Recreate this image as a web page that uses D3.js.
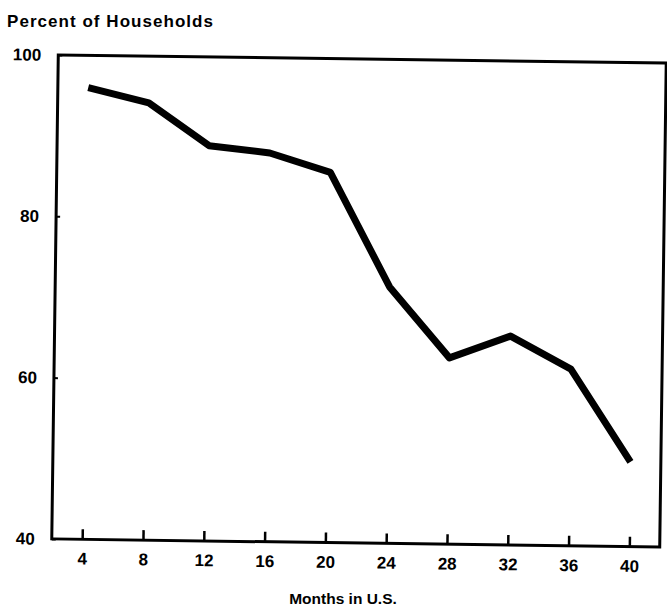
<!DOCTYPE html>
<html>
<head>
<meta charset="utf-8">
<script src="https://cdn.jsdelivr.net/npm/d3@7"></script>
<style>
  body { margin: 0; background: #fff; }
  text { font-family: "Liberation Sans", Arial, sans-serif; fill: #000; }
</style>
</head>
<body>
<div id="chart"></div>
<script>
// data
var months = [4, 8, 12, 16, 20, 24, 28, 32, 36, 40];
var percents = [96, 94.2, 89, 88.2, 85.9, 71.8, 63.1, 65.9, 61.9, 50.5];
var xTicks = [4, 8, 12, 16, 20, 24, 28, 32, 36, 40];
var yTicks = [40, 60, 80, 100];

function drawChart() {

    //set svg dimensions
    var svgWidth = 667;
    var svgHeight = 608;

    //plot box
    var margin = { top: 59, left: 55 };
    var width = 608;
    var height = 484;

    var svg = d3.select("#chart").append("svg")
        .attr("width", svgWidth)
        .attr("height", svgHeight);

    // the scan is slightly tilted, so tilt the plot the same way
    var cx = margin.left + width / 2;
    var cy = margin.top + height / 2;
    var chartGroup = svg.append("g")
        .attr("transform", `rotate(0.77, ${cx}, ${cy}) translate(${margin.left}, ${margin.top})`);

    // scales
    var xScale = d3.scaleLinear().domain([2, 42]).range([0, width]);
    var yScale = d3.scaleLinear().domain([40, 100]).range([height, 0]);

    // frame
    chartGroup.append("rect")
        .attr("x", 0)
        .attr("y", 0)
        .attr("width", width)
        .attr("height", height)
        .attr("fill", "none")
        .attr("stroke", "#000")
        .attr("stroke-width", 3);

    // x axis: ticks pointing up into the box
    var xAxis = d3.axisBottom(xScale)
        .tickValues(xTicks)
        .tickSizeInner(-10)
        .tickSizeOuter(0)
        .tickPadding(10)
        .tickFormat(d3.format("d"));

    var xg = chartGroup.append("g")
        .attr("transform", `translate(0, ${height})`)
        .call(xAxis);
    xg.select(".domain").remove();
    xg.selectAll(".tick line").attr("stroke", "#000").attr("stroke-width", 2.5);
    xg.selectAll(".tick text")
        .attr("font-size", "17px")
        .attr("font-weight", "bold")
        .attr("font-family", "Liberation Sans, Arial, sans-serif")
        .attr("dy", "0.9em");

    // y axis: small inward ticks
    var yAxis = d3.axisLeft(yScale)
        .tickValues(yTicks)
        .tickSizeInner(-4)
        .tickSizeOuter(0)
        .tickPadding(17)
        .tickFormat(d3.format("d"));

    var yg = chartGroup.append("g").call(yAxis);
    yg.select(".domain").remove();
    yg.selectAll(".tick line").attr("stroke", "#000").attr("stroke-width", 2);
    yg.selectAll(".tick text")
        .attr("font-size", "17px")
        .attr("font-weight", "bold")
        .attr("font-family", "Liberation Sans, Arial, sans-serif");

    // the line
    var line = d3.line()
        .x(function(d, i) { return xScale(months[i]); })
        .y(function(d) { return yScale(d); });

    chartGroup.append("path")
        .datum(percents)
        .attr("d", line)
        .attr("fill", "none")
        .attr("stroke", "#000")
        .attr("stroke-width", 7)
        .attr("stroke-linejoin", "round");

    // axis titles
    svg.append("text")
        .attr("x", 7)
        .attr("y", 27)
        .attr("font-size", "17px")
        .attr("font-weight", "bold")
        .attr("textLength", 206)
        .attr("lengthAdjust", "spacing")
        .text("Percent of Households");

    svg.append("text")
        .attr("x", 343)
        .attr("y", 604)
        .attr("text-anchor", "middle")
        .attr("font-size", "15.5px")
        .attr("font-weight", "bold")
        .text("Months in U.S.");
}

drawChart();
</script>
</body>
</html>
